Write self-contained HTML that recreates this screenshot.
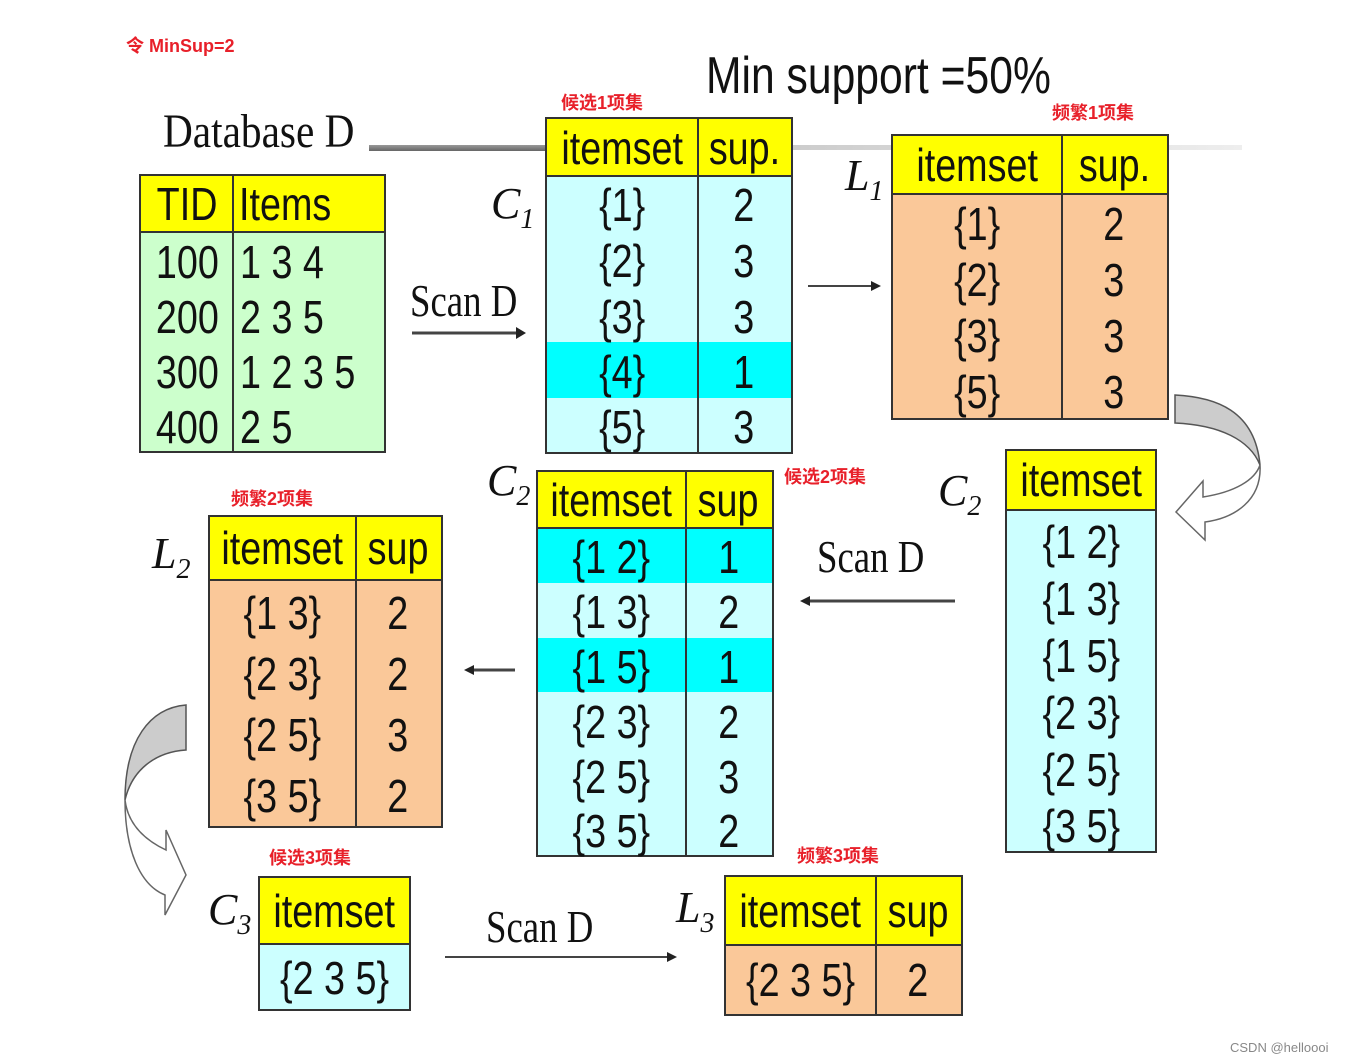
<!DOCTYPE html>
<html><head><meta charset="utf-8">
<style>
body{margin:0;width:1346px;height:1063px;background:#fff;position:relative;overflow:hidden;font-family:"Liberation Sans",sans-serif}
.a{position:absolute}
.t{position:absolute;border:2px solid #333;box-sizing:border-box}
.r{position:absolute;left:0;right:0}
.c{position:absolute;top:0;bottom:0;display:flex;align-items:center;justify-content:center;font-size:46px;color:#111;white-space:nowrap}
.c span{display:inline-block;transform:scaleX(.82)}
.vl{position:absolute;top:0;bottom:0;width:2px;background:#333}
.hl{position:absolute;left:0;right:0;height:2px;background:#333}
.y{background:#ffff00}
.cy{background:#00ffff}
.red{position:absolute;color:#e8202a;font-weight:bold;font-size:18px;font-family:"Liberation Sans","Noto Sans CJK SC",sans-serif}
.serif{position:absolute;font-family:"Liberation Serif",serif;color:#111;white-space:nowrap}
.lab{position:absolute;font-family:"Liberation Serif",serif;font-style:italic;font-size:44px;color:#111}
.lab sub{font-size:28px}
</style></head><body>

<div class="red" style="left:126px;top:32px">令 MinSup=2</div>
<div class="red" style="left:561px;top:89px">候选1项集</div>
<div class="red" style="left:1052px;top:99px">频繁1项集</div>
<div class="red" style="left:784px;top:463px">候选2项集</div>
<div class="red" style="left:231px;top:485px">频繁2项集</div>
<div class="red" style="left:269px;top:844px">候选3项集</div>
<div class="red" style="left:797px;top:842px">频繁3项集</div>

<div class="a" style="left:706px;top:46px;font-size:52px;color:#111;transform:scaleX(.82);transform-origin:left">Min support =50%</div>
<div class="serif" style="left:163px;top:104px;font-size:48px;transform:scaleX(.86);transform-origin:left">Database D</div>

<div class="a" style="left:369px;top:145px;width:180px;height:6px;background:linear-gradient(#999,#666)"></div>
<div class="a" style="left:792px;top:145px;width:450px;height:5px;background:linear-gradient(90deg,#ccc,#eee)"></div>

<div class="t" style="left:139px;top:174px;width:247px;height:279px;background:#ccffcc">
 <div class="r y" style="top:0;height:55px"><div class="c" style="left:0;width:92px"><span>TID</span></div><div class="c" style="left:98px;justify-content:flex-start"><span style="transform-origin:left">Items</span></div></div>
 <div class="hl" style="top:55px"></div>
 <div class="vl" style="left:91px"></div>
 <div class="r" style="top:58px;height:55px"><div class="c" style="left:0;width:92px"><span>100</span></div><div class="c" style="left:99px;justify-content:flex-start"><span style="transform-origin:left">1 3 4</span></div></div>
 <div class="r" style="top:113px;height:55px"><div class="c" style="left:0;width:92px"><span>200</span></div><div class="c" style="left:99px;justify-content:flex-start"><span style="transform-origin:left">2 3 5</span></div></div>
 <div class="r" style="top:168px;height:55px"><div class="c" style="left:0;width:92px"><span>300</span></div><div class="c" style="left:99px;justify-content:flex-start"><span style="transform-origin:left">1 2 3 5</span></div></div>
 <div class="r" style="top:223px;height:55px"><div class="c" style="left:0;width:92px"><span>400</span></div><div class="c" style="left:99px;justify-content:flex-start"><span style="transform-origin:left">2 5</span></div></div>
</div>

<div class="lab" style="left:491px;top:178px">C<sub>1</sub></div>
<div class="serif" style="left:410px;top:274px;font-size:46px;transform:scaleX(.8);transform-origin:left">Scan D</div>

<div class="t" style="left:545px;top:117px;width:248px;height:337px;background:#ccffff">
 <div class="r y" style="top:0;height:57px"><div class="c" style="left:0;width:150px"><span>itemset</span></div><div class="c" style="left:150px;right:0"><span>sup.</span></div></div>
 <div class="r cy" style="top:223px;height:56px"></div>
 <div class="hl" style="top:56px"></div>
 <div class="vl" style="left:150px"></div>
 <div class="r" style="top:58px;height:56px"><div class="c" style="left:0;width:150px"><span>{1}</span></div><div class="c" style="left:150px;right:0"><span>2</span></div></div>
 <div class="r" style="top:114px;height:56px"><div class="c" style="left:0;width:150px"><span>{2}</span></div><div class="c" style="left:150px;right:0"><span>3</span></div></div>
 <div class="r" style="top:170px;height:56px"><div class="c" style="left:0;width:150px"><span>{3}</span></div><div class="c" style="left:150px;right:0"><span>3</span></div></div>
 <div class="r" style="top:225px;height:56px"><div class="c" style="left:0;width:150px"><span>{4}</span></div><div class="c" style="left:150px;right:0"><span>1</span></div></div>
 <div class="r" style="top:280px;height:56px"><div class="c" style="left:0;width:150px"><span>{5}</span></div><div class="c" style="left:150px;right:0"><span>3</span></div></div>
</div>

<div class="lab" style="left:845px;top:150px">L<sub>1</sub></div>

<div class="t" style="left:891px;top:134px;width:278px;height:286px;background:#fac899">
 <div class="r y" style="top:0;height:57px"><div class="c" style="left:0;width:168px"><span>itemset</span></div><div class="c" style="left:168px;right:0"><span>sup.</span></div></div>
 <div class="hl" style="top:57px"></div>
 <div class="vl" style="left:168px"></div>
 <div class="r" style="top:60px;height:56px"><div class="c" style="left:0;width:168px"><span>{1}</span></div><div class="c" style="left:168px;right:0"><span>2</span></div></div>
 <div class="r" style="top:116px;height:56px"><div class="c" style="left:0;width:168px"><span>{2}</span></div><div class="c" style="left:168px;right:0"><span>3</span></div></div>
 <div class="r" style="top:172px;height:56px"><div class="c" style="left:0;width:168px"><span>{3}</span></div><div class="c" style="left:168px;right:0"><span>3</span></div></div>
 <div class="r" style="top:228px;height:56px"><div class="c" style="left:0;width:168px"><span>{5}</span></div><div class="c" style="left:168px;right:0"><span>3</span></div></div>
</div>

<div class="lab" style="left:938px;top:465px">C<sub>2</sub></div>
<div class="t" style="left:1005px;top:449px;width:152px;height:404px;background:#ccffff">
 <div class="r y" style="top:0;height:58px"><div class="c" style="left:0;right:0"><span>itemset</span></div></div>
 <div class="hl" style="top:58px"></div>
 <div class="r" style="top:62px;height:57px"><div class="c" style="left:0;right:0"><span>{1 2}</span></div></div>
 <div class="r" style="top:119px;height:57px"><div class="c" style="left:0;right:0"><span>{1 3}</span></div></div>
 <div class="r" style="top:176px;height:57px"><div class="c" style="left:0;right:0"><span>{1 5}</span></div></div>
 <div class="r" style="top:233px;height:57px"><div class="c" style="left:0;right:0"><span>{2 3}</span></div></div>
 <div class="r" style="top:290px;height:57px"><div class="c" style="left:0;right:0"><span>{2 5}</span></div></div>
 <div class="r" style="top:346px;height:57px"><div class="c" style="left:0;right:0"><span>{3 5}</span></div></div>
</div>

<div class="serif" style="left:817px;top:530px;font-size:46px;transform:scaleX(.8);transform-origin:left">Scan D</div>

<div class="lab" style="left:487px;top:455px">C<sub>2</sub></div>
<div class="t" style="left:536px;top:470px;width:238px;height:387px;background:#ccffff">
 <div class="r y" style="top:0;height:55px"><div class="c" style="left:0;width:147px"><span>itemset</span></div><div class="c" style="left:147px;right:0"><span>sup</span></div></div>
 <div class="r cy" style="top:57px;height:54px"></div>
 <div class="r cy" style="top:166px;height:54px"></div>
 <div class="hl" style="top:55px"></div>
 <div class="vl" style="left:147px"></div>
 <div class="r" style="top:57px;height:55px"><div class="c" style="left:0;width:147px"><span>{1 2}</span></div><div class="c" style="left:147px;right:0"><span>1</span></div></div>
 <div class="r" style="top:112px;height:55px"><div class="c" style="left:0;width:147px"><span>{1 3}</span></div><div class="c" style="left:147px;right:0"><span>2</span></div></div>
 <div class="r" style="top:167px;height:55px"><div class="c" style="left:0;width:147px"><span>{1 5}</span></div><div class="c" style="left:147px;right:0"><span>1</span></div></div>
 <div class="r" style="top:222px;height:55px"><div class="c" style="left:0;width:147px"><span>{2 3}</span></div><div class="c" style="left:147px;right:0"><span>2</span></div></div>
 <div class="r" style="top:277px;height:55px"><div class="c" style="left:0;width:147px"><span>{2 5}</span></div><div class="c" style="left:147px;right:0"><span>3</span></div></div>
 <div class="r" style="top:331px;height:55px"><div class="c" style="left:0;width:147px"><span>{3 5}</span></div><div class="c" style="left:147px;right:0"><span>2</span></div></div>
</div>

<div class="lab" style="left:152px;top:528px">L<sub>2</sub></div>
<div class="t" style="left:208px;top:515px;width:235px;height:313px;background:#fac899">
 <div class="r y" style="top:0;height:62px"><div class="c" style="left:0;width:145px"><span>itemset</span></div><div class="c" style="left:145px;right:0"><span>sup</span></div></div>
 <div class="hl" style="top:62px"></div>
 <div class="vl" style="left:145px"></div>
 <div class="r" style="top:65px;height:61px"><div class="c" style="left:0;width:145px"><span>{1 3}</span></div><div class="c" style="left:145px;right:0"><span>2</span></div></div>
 <div class="r" style="top:126px;height:61px"><div class="c" style="left:0;width:145px"><span>{2 3}</span></div><div class="c" style="left:145px;right:0"><span>2</span></div></div>
 <div class="r" style="top:187px;height:61px"><div class="c" style="left:0;width:145px"><span>{2 5}</span></div><div class="c" style="left:145px;right:0"><span>3</span></div></div>
 <div class="r" style="top:248px;height:61px"><div class="c" style="left:0;width:145px"><span>{3 5}</span></div><div class="c" style="left:145px;right:0"><span>2</span></div></div>
</div>

<div class="lab" style="left:208px;top:884px">C<sub>3</sub></div>
<div class="t" style="left:258px;top:876px;width:153px;height:135px;background:#ccffff">
 <div class="r y" style="top:0;height:65px"><div class="c" style="left:0;right:0"><span>itemset</span></div></div>
 <div class="hl" style="top:65px"></div>
 <div class="r" style="top:67px;height:66px"><div class="c" style="left:0;right:0"><span>{2 3 5}</span></div></div>
</div>

<div class="serif" style="left:486px;top:900px;font-size:46px;transform:scaleX(.8);transform-origin:left">Scan D</div>

<div class="lab" style="left:676px;top:882px">L<sub>3</sub></div>
<div class="t" style="left:724px;top:875px;width:239px;height:141px;background:#fac899">
 <div class="r y" style="top:0;height:67px"><div class="c" style="left:0;width:149px"><span>itemset</span></div><div class="c" style="left:149px;right:0"><span>sup</span></div></div>
 <div class="hl" style="top:67px"></div>
 <div class="vl" style="left:149px"></div>
 <div class="r" style="top:69px;height:68px"><div class="c" style="left:0;width:149px"><span>{2 3 5}</span></div><div class="c" style="left:149px;right:0"><span>2</span></div></div>
</div>

<div class="a" style="left:1230px;top:1040px;font-size:13px;color:#888">CSDN @helloooi</div>

<svg class="a" style="left:0;top:0" width="1346" height="1063">
 <g stroke="#444" stroke-width="3" fill="#222">
  <line x1="412" y1="333" x2="518" y2="333"/><polygon points="526,333 516,327 516,339" stroke="none"/>
  <line x1="808" y1="286" x2="872" y2="286" stroke-width="2"/><polygon points="881,286 871,281 871,291" stroke="none"/>
  <line x1="955" y1="601" x2="808" y2="601"/><polygon points="800,601 810,596 810,606" stroke="none"/>
  <line x1="515" y1="670" x2="472" y2="670"/><polygon points="464,670 474,665 474,675" stroke="none"/>
  <line x1="445" y1="957" x2="668" y2="957" stroke-width="2"/><polygon points="677,957 667,952 667,962" stroke="none"/>
 </g>
 <path d="M1175,395 C1215,397 1255,410 1260,465 C1250,440 1220,425 1175,423 Z" fill="#ccc" stroke="#555" stroke-width="1.5"/>
 <path d="M1260,465 C1262,500 1235,518 1205,522 L1205,540 L1176,512 L1203,481 L1203,497 C1235,492 1255,480 1260,465" fill="#fff" stroke="#666" stroke-width="1.5"/>
 <path d="M186,705 C150,708 125,740 125,800 C132,770 155,752 186,750 Z" fill="#ccc" stroke="#555" stroke-width="1.5"/>
 <path d="M125,800 C125,850 140,885 165,895 L165,915 L186,875 L166,830 L166,850 C145,840 128,825 125,800" fill="#fff" stroke="#666" stroke-width="1.5"/>
</svg>
</body></html>
